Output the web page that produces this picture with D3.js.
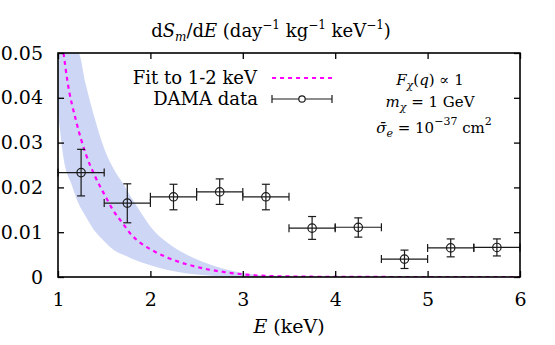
<!DOCTYPE html>
<html>
<head>
<meta charset="utf-8">
<script src="https://cdn.jsdelivr.net/npm/d3@7"></script>
<style>
  body { margin: 0; background: #fff; }
  text { font-family: "DejaVu Serif", serif; fill: #000; }
</style>
</head>
<body>
<div id="chart-area"></div>
<script>
const margin = { top: 53, bottom: 68, left: 58, right: 35 };
const width = 555 - margin.left - margin.right;
const height = 345 - margin.top - margin.bottom;

// DAMA data points: bin centres, half widths, rate and error bar ends
const binE = [1.25, 1.75, 2.25, 2.75, 3.25, 3.75, 4.25, 4.75, 5.25, 5.75];
const binHalf = [0.25, 0.25, 0.25, 0.25, 0.25, 0.25, 0.25, 0.25, 0.25, 0.25];
const rate = [0.0233, 0.0165, 0.0179, 0.0190, 0.0179, 0.0109, 0.0111, 0.0040, 0.0065, 0.0066];
const rateHi = [0.0285, 0.0208, 0.0207, 0.0219, 0.0207, 0.0135, 0.0132, 0.0060, 0.0085, 0.0085];
const rateLo = [0.0181, 0.0121, 0.0150, 0.0162, 0.0150, 0.0084, 0.0089, 0.0019, 0.0045, 0.0047];

// fit to 1-2 keV (dashed curve)
const fitE = [1.06, 1.1, 1.2, 1.3, 1.4, 1.5, 1.6, 1.7, 1.8, 1.9, 2.0, 2.2, 2.4, 2.6, 2.8, 3.0, 3.3, 3.6, 4.0, 5.0, 6.0];
const fitRate = [0.0500, 0.0440, 0.0345, 0.0275, 0.0225, 0.0185, 0.0148, 0.0120, 0.0093, 0.0075, 0.0062,
  0.0042, 0.0028, 0.0018, 0.0011, 0.0006, 0.0002, 0.0001, 0.00003, 0, 0];

// uncertainty band
const bandE = [1.0, 1.06, 1.15, 1.22, 1.3, 1.4, 1.5, 1.62, 1.7, 1.8, 1.9, 2.0, 2.2, 2.4, 2.6, 2.8, 3.0, 3.2, 3.5, 4.0];
const bandHi = [0.0500, 0.0500, 0.0500, 0.0500, 0.0430, 0.0352, 0.0287, 0.0235, 0.0210, 0.0175, 0.0143, 0.0113,
  0.0074, 0.0049, 0.0031, 0.0018, 0.0009, 0.0004, 0.0001, 0];
const bandLo = [0.0370, 0.0265, 0.0205, 0.0165, 0.0135, 0.0102, 0.0080, 0.0058, 0.0050, 0.0041, 0.0033, 0.0026,
  0.0015, 0.0008, 0.0004, 0.0001, 0, 0, 0, 0];

const xTicks = [1, 2, 3, 4, 5, 6];
const yTicks = [0, 0.01, 0.02, 0.03, 0.04, 0.05];

const x = d3.scaleLinear().domain([1, 6]).range([0, width]);
const y = d3.scaleLinear().domain([0, 0.05]).range([height, 0]);

const svg = d3.select('#chart-area').append('svg')
  .attr('width', 555)
  .attr('height', 345);

const g = svg.append('g')
  .attr('transform', `translate(${margin.left}, ${margin.top})`);

g.append('clipPath').attr('id', 'clip')
  .append('rect').attr('width', width).attr('height', height);

const plot = g.append('g').attr('clip-path', 'url(#clip)');

// band
const band = d3.area()
  .x((d, i) => x(bandE[i]))
  .y0((d, i) => y(bandLo[i]))
  .y1((d, i) => y(bandHi[i]))
  .curve(d3.curveMonotoneX);
plot.append('path')
  .attr('d', band(bandE))
  .attr('fill', 'rgb(205,214,245)');

// fit curve
const line = d3.line()
  .x((d, i) => x(fitE[i]))
  .y((d, i) => y(fitRate[i]))
  .curve(d3.curveMonotoneX);
plot.append('path')
  .attr('d', line(fitE))
  .attr('fill', 'none')
  .attr('stroke', '#ff00ff')
  .attr('stroke-width', 2.2)
  .attr('stroke-dasharray', '4,4');

// error bars
const cap = 4;
const pts = g.append('g')
  .attr('stroke', '#1a1a1a')
  .attr('stroke-width', 1.2)
  .attr('fill', 'none');

binE.forEach((e, i) => {
  const cx = x(e), cy = y(rate[i]);
  const x0 = x(e - binHalf[i]), x1 = x(e + binHalf[i]);
  const y0 = y(rateLo[i]), y1 = y(rateHi[i]);
  const p = pts.append('g');
  p.append('line').attr('x1', x0).attr('x2', x1).attr('y1', cy).attr('y2', cy);
  p.append('line').attr('x1', x0).attr('x2', x0).attr('y1', cy - cap).attr('y2', cy + cap);
  p.append('line').attr('x1', x1).attr('x2', x1).attr('y1', cy - cap).attr('y2', cy + cap);
  p.append('line').attr('x1', cx).attr('x2', cx).attr('y1', y0).attr('y2', y1);
  p.append('line').attr('x1', cx - cap).attr('x2', cx + cap).attr('y1', y0).attr('y2', y0);
  p.append('line').attr('x1', cx - cap).attr('x2', cx + cap).attr('y1', y1).attr('y2', y1);
  p.append('circle').attr('cx', cx).attr('cy', cy).attr('r', 4.2);
});

// axes with inside ticks on all four sides
const tickLen = 6;
const fmtY = d => d === 0 ? '0' : d3.format('.2f')(d);

const xAxisB = g.append('g')
  .attr('transform', `translate(0, ${height})`)
  .call(d3.axisBottom(x).tickValues(xTicks).tickSize(-tickLen).tickPadding(16).tickFormat(d3.format('d')));
const xAxisT = g.append('g')
  .call(d3.axisTop(x).tickValues(xTicks).tickSize(-tickLen).tickFormat(''));
const yAxisL = g.append('g')
  .call(d3.axisLeft(y).tickValues(yTicks).tickSize(-tickLen).tickPadding(15).tickFormat(fmtY));
const yAxisR = g.append('g')
  .attr('transform', `translate(${width}, 0)`)
  .call(d3.axisRight(y).tickValues(yTicks).tickSize(-tickLen).tickFormat(''));

[xAxisB, xAxisT, yAxisL, yAxisR].forEach(a => {
  a.attr('font-family', null);
  a.select('.domain').remove();
  a.selectAll('line').attr('stroke', '#000').attr('stroke-width', 1.3);
  a.selectAll('text').attr('font-size', '19px');
});

g.append('rect')
  .attr('width', width).attr('height', height)
  .attr('fill', 'none').attr('stroke', '#000').attr('stroke-width', 1.6);

// title
const title = svg.append('text')
  .attr('x', 271).attr('y', 37)
  .attr('text-anchor', 'middle')
  .attr('font-size', '18px');
title.append('tspan').text('d');
title.append('tspan').attr('font-style', 'italic').text('S');
title.append('tspan').attr('font-style', 'italic').attr('font-size', '12px').attr('dy', 4).text('m');
title.append('tspan').attr('dy', -4).text('/d');
title.append('tspan').attr('font-style', 'italic').text('E');
title.append('tspan').text(' (day');
title.append('tspan').attr('font-size', '12px').attr('dy', -8).text('−1');
title.append('tspan').attr('dy', 8).text(' kg');
title.append('tspan').attr('font-size', '12px').attr('dy', -8).text('−1');
title.append('tspan').attr('dy', 8).text(' keV');
title.append('tspan').attr('font-size', '12px').attr('dy', -8).text('−1');
title.append('tspan').attr('dy', 8).text(')');

// x axis label
const xl = svg.append('text')
  .attr('x', margin.left + width / 2).attr('y', 333)
  .attr('text-anchor', 'middle')
  .attr('font-size', '19px');
xl.append('tspan').attr('font-style', 'italic').text('E');
xl.append('tspan').text(' (keV)');

// legend
const legend = svg.append('g');
legend.append('text')
  .attr('x', 257).attr('y', 84)
  .attr('text-anchor', 'end')
  .attr('font-size', '18px')
  .text('Fit to 1-2 keV');
legend.append('line')
  .attr('x1', 272).attr('x2', 332).attr('y1', 78).attr('y2', 78)
  .attr('stroke', '#ff00ff').attr('stroke-width', 2.2).attr('stroke-dasharray', '4,4');
legend.append('text')
  .attr('x', 258).attr('y', 105)
  .attr('text-anchor', 'end')
  .attr('font-size', '18px')
  .text('DAMA data');
const lk = legend.append('g').attr('stroke', '#1a1a1a').attr('stroke-width', 1.2).attr('fill', 'none');
lk.append('line').attr('x1', 272).attr('x2', 332).attr('y1', 99).attr('y2', 99);
lk.append('line').attr('x1', 272).attr('x2', 272).attr('y1', 95).attr('y2', 103);
lk.append('line').attr('x1', 332).attr('x2', 332).attr('y1', 95).attr('y2', 103);
lk.append('circle').attr('cx', 302).attr('cy', 99).attr('r', 3.2).attr('fill', '#fff');

// annotation
const note = svg.append('g').attr('font-size', '15px').attr('text-anchor', 'middle');
const n1 = note.append('text').attr('x', 430).attr('y', 85);
n1.append('tspan').attr('font-style', 'italic').text('F');
n1.append('tspan').attr('font-style', 'italic').attr('font-size', '11px').attr('dy', 4).text('χ');
n1.append('tspan').attr('dy', -4).text('(');
n1.append('tspan').attr('font-style', 'italic').text('q');
n1.append('tspan').text(') ∝ 1');
const n2 = note.append('text').attr('x', 430).attr('y', 107);
n2.append('tspan').attr('font-style', 'italic').text('m');
n2.append('tspan').attr('font-style', 'italic').attr('font-size', '11px').attr('dy', 4).text('χ');
n2.append('tspan').attr('dy', -4).text(' = 1 GeV');
const n3 = note.append('text').attr('x', 434).attr('y', 133);
n3.append('tspan').attr('font-style', 'italic').text('σ̄');
n3.append('tspan').attr('font-style', 'italic').attr('font-size', '11px').attr('dy', 4).text('e');
n3.append('tspan').attr('dy', -4).text(' = 10');
n3.append('tspan').attr('font-size', '11px').attr('dy', -8).text('−37');
n3.append('tspan').attr('dy', 8).text(' cm');
n3.append('tspan').attr('font-size', '11px').attr('dy', -8).text('2');
</script>
</body>
</html>
